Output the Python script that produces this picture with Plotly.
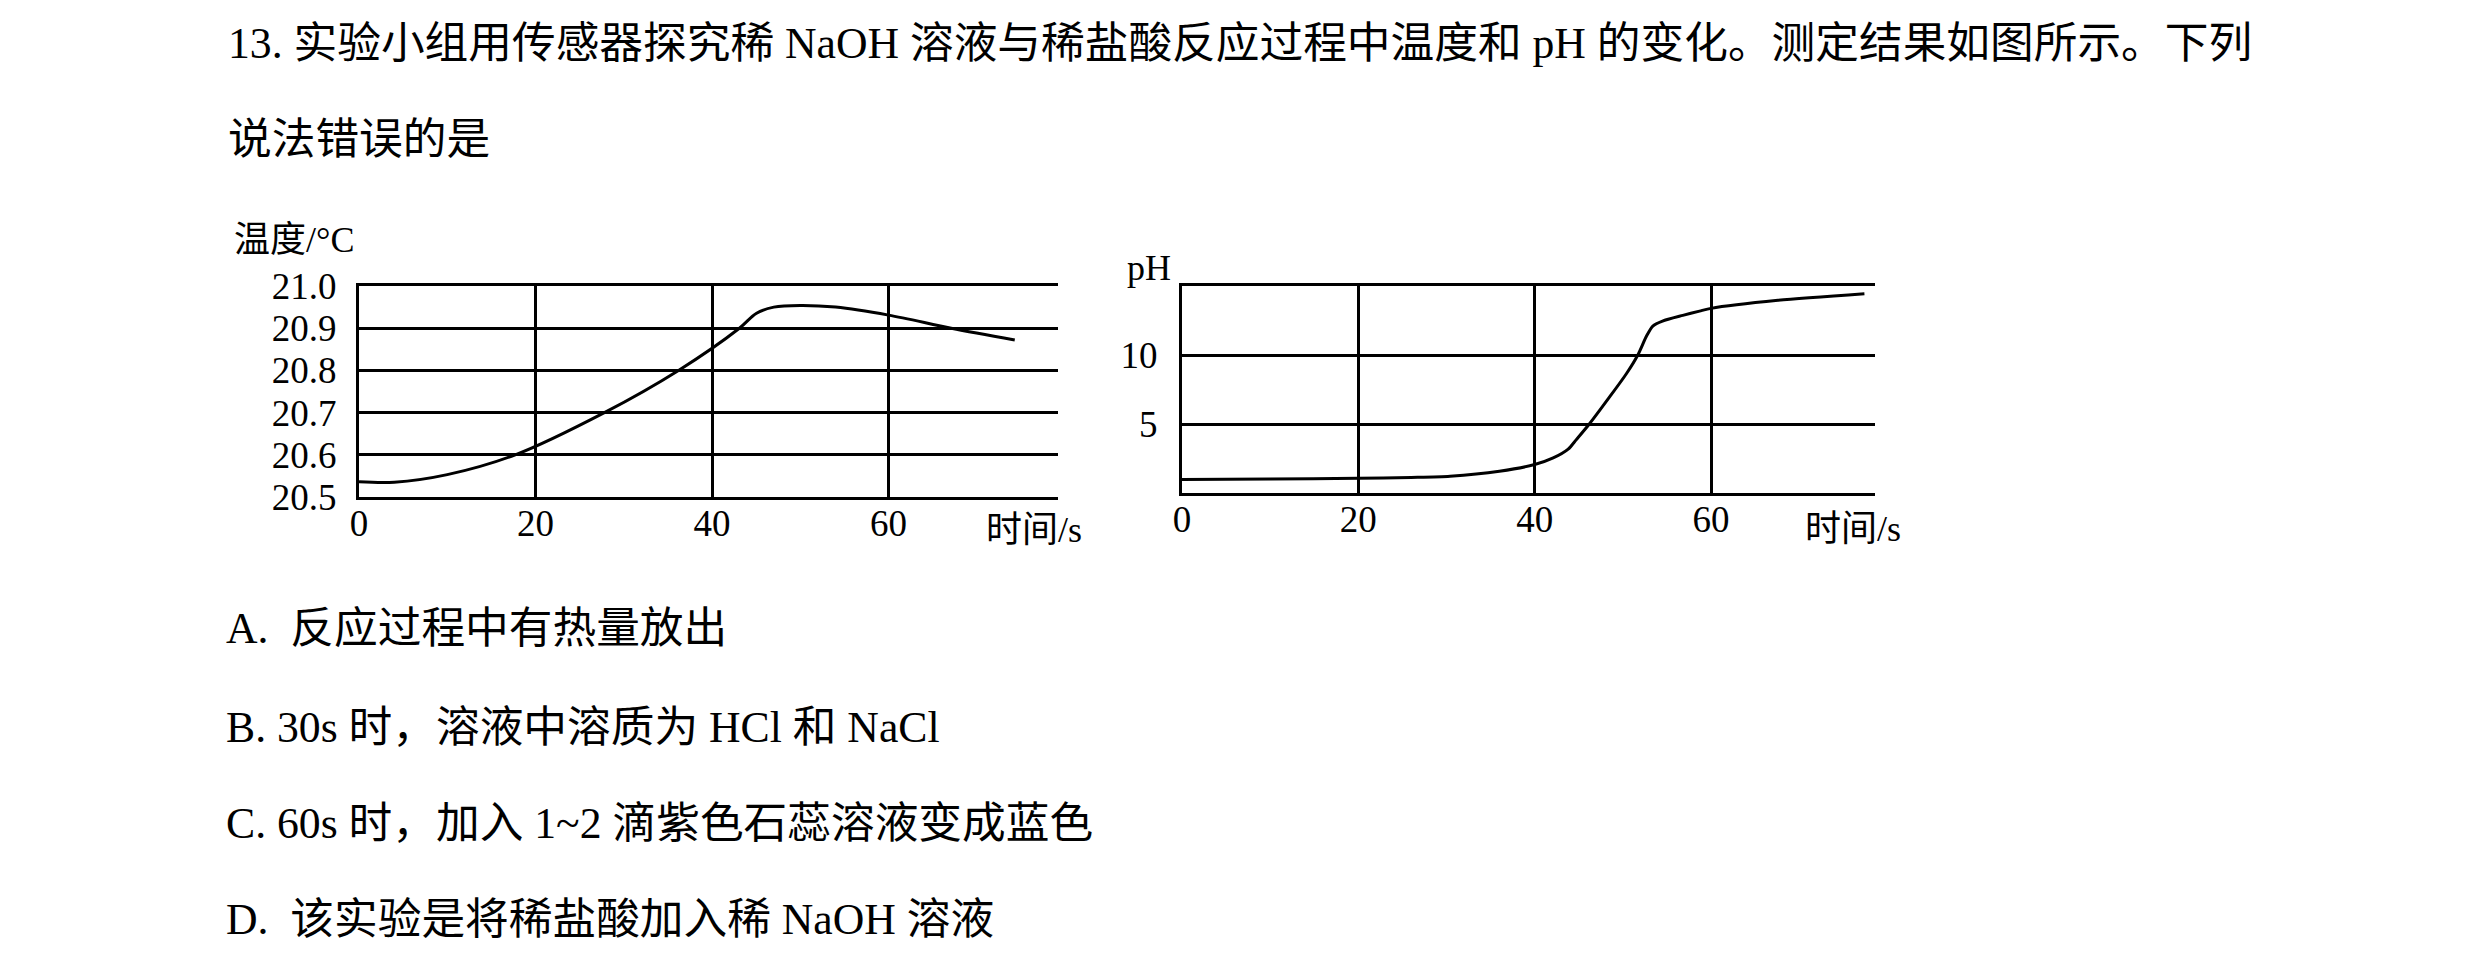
import plotly.graph_objects as go

W, H = 2480, 958

# ---- data ----
temp_t = [0, 4, 10, 17.7, 27.8, 36.2, 43.1, 45.0, 47.0, 50.0, 54.0, 60, 67.1, 74.3]
temp_v = [20.536, 20.535, 20.553, 20.6, 20.7, 20.8, 20.9, 20.935, 20.950, 20.954,
          20.950, 20.931, 20.9, 20.872]

ph_t = [0, 10, 20, 26, 30.4, 36.0, 40, 42.1, 43.8, 44.7, 46.2, 48.5, 50.4, 51.7, 52.7,
        53.4, 54.5, 56.8, 58.7, 60, 67.6, 77.4]
ph_v = [0.98, 1.02, 1.06, 1.13, 1.22, 1.58, 2.06, 2.54, 3.18, 3.85, 5.0, 6.96, 8.64, 10.0,
        11.39, 12.1, 12.46, 12.87, 13.18, 13.38, 13.96, 14.44]

x_ticks = [0, 20, 40, 60]
temp_ticks = [20.5, 20.6, 20.7, 20.8, 20.9, 21.0]
temp_tick_text = ["20.5", "20.6", "20.7", "20.8", "20.9", "21.0"]
ph_ticks = [0, 5, 10, 15]
ph_tick_text = ["", "5", "10", ""]

question_lines = [
    "13. 实验小组用传感器探究稀 NaOH 溶液与稀盐酸反应过程中温度和 pH 的变化。测定结果如图所示。下列",
    "说法错误的是",
]
options = [
    "A.  反应过程中有热量放出",
    "B. 30s 时，溶液中溶质为 HCl 和 NaCl",
    "C. 60s 时，加入 1~2 滴紫色石蕊溶液变成蓝色",
    "D.  该实验是将稀盐酸加入稀 NaOH 溶液",
]

FONT = "Liberation Serif, Times New Roman, Noto Sans CJK SC, serif"

def px(x):
    return x / W

def py(y):
    return 1 - y / H

fig = go.Figure()
fig.add_trace(go.Scatter(x=temp_t, y=temp_v, mode="lines", xaxis="x", yaxis="y",
                         line=dict(color="black", width=3, shape="spline", smoothing=0.9),
                         showlegend=False, hoverinfo="skip"))
fig.add_trace(go.Scatter(x=ph_t, y=ph_v, mode="lines", xaxis="x2", yaxis="y2",
                         line=dict(color="black", width=3, shape="spline", smoothing=0.7),
                         showlegend=False, hoverinfo="skip"))

axis_common = dict(showline=True, linecolor="black", linewidth=3, showgrid=True,
                   gridcolor="black", zeroline=False, ticks="", automargin=False,
                   tickfont=dict(family=FONT, size=37, color="black"), fixedrange=True)

fig.update_layout(
    width=W, height=H, margin=dict(l=0, r=0, t=0, b=0, pad=0, autoexpand=False),
    paper_bgcolor="white", plot_bgcolor="white", showlegend=False,
    xaxis=dict(domain=[px(359), px(1058)], range=[0, 79.2], anchor="y",
               tickvals=x_ticks, ticktext=[str(v) for v in x_ticks],
               mirror=True, gridwidth=2.5, ticklabelstandoff=-8, **axis_common),
    yaxis=dict(domain=[py(497), py(286)], range=[20.5, 21.0], anchor="x",
               tickvals=temp_ticks, ticktext=temp_tick_text,
               gridwidth=3, ticklabelstandoff=12, **axis_common),
    xaxis2=dict(domain=[px(1182), px(1875)], range=[0, 78.6], anchor="y2",
                tickvals=x_ticks, ticktext=[str(v) for v in x_ticks],
                mirror=True, gridwidth=2.5, ticklabelstandoff=-8, **axis_common),
    yaxis2=dict(domain=[py(493), py(286)], range=[0, 15], anchor="x2",
                tickvals=ph_ticks, ticktext=ph_tick_text,
                gridwidth=3, ticklabelstandoff=14, **axis_common),
)

ann = []
body = dict(family=FONT, size=43.7, color="black")
ann.append(dict(x=px(226), y=py(43), text=question_lines[0]))
ann.append(dict(x=px(226), y=py(139), text=question_lines[1]))
for yv, t in zip([628, 727, 823, 919], options):
    ann.append(dict(x=px(224), y=py(yv), text=t))
annotations = [dict(a, xref="paper", yref="paper", xanchor="left", yanchor="middle",
                    showarrow=False, font=body) for a in ann]

lab = dict(family=FONT, size=36, color="black")
for x, y, t in [(232, 240, "温度/°C"), (984, 530, "时间/s"), (1125, 268, "pH"), (1803, 529, "时间/s")]:
    annotations.append(dict(x=px(x), y=py(y), text=t, xref="paper", yref="paper",
                            xanchor="left", yanchor="middle", showarrow=False, font=lab))
fig.update_layout(annotations=annotations)

fig.write_html("out.html")
